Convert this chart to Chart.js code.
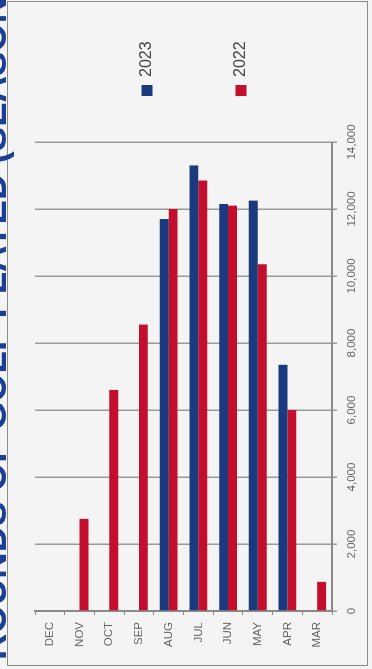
<!DOCTYPE html>
<html>
<head>
<meta charset="utf-8">
<script src="https://cdn.jsdelivr.net/npm/chart.js@4/dist/chart.umd.min.js"></script>
<style>
html, body { margin: 0; padding: 0; background: #f4f4f4; overflow: hidden; }
/* the scanned chart is turned a quarter turn: draw it flat, then rotate the page */
#page {
    position: absolute; left: 0; top: 0;
    width: 669px; height: 372px;
    transform-origin: 0 0;
    transform: translateY(669px) rotate(-90deg);
    overflow: hidden;
    background: #f4f4f4;
}
#frame {
    position: absolute; left: 3px; top: 7px;
    width: 665px; height: 361px;
    box-sizing: border-box;
    border: 1.5px solid #8c8c8c;
}
#chart { position: absolute; left: 0; top: 0; }
</style>
</head>
<body>
<div id="page">
    <div id="frame"></div>
    <canvas id="chart" width="669" height="372"></canvas>
</div>
<script>
// Données du graphique
const chartTitle = "ROUNDS OF GOLF PLAYED (SEASON)";
const months = ["DEC", "NOV", "OCT", "SEP", "AUG", "JUL", "JUN", "MAY", "APR", "MAR"];
const seriesNames = ["2023", "2022"];
const rounds2023 = [null, null, null, null, 11700, 13300, 12150, 12250, 7350, null];
const rounds2022 = [null, 2750, 6600, 8550, 12000, 12850, 12100, 10350, 6000, 870];
const valueTicks = [0, 2000, 4000, 6000, 8000, 10000, 12000, 14000];

const colors = ['#1b3a7d', '#c30f2d'];
const legendY = [147, 241];

// Titre (coupé par le scan) et légende dessinés à la main
const titleAndLegend = {
    id: 'titleAndLegend',
    afterDraw(chart) {
        const ctx = chart.ctx;
        ctx.save();
        ctx.fillStyle = '#1c3f94';
        ctx.font = 'bold 36.6px "Liberation Sans", Arial, sans-serif';
        ctx.textBaseline = 'alphabetic';
        ctx.fillText(chartTitle, 9, 6);

        chart.data.datasets.forEach((ds, i) => {
            const y = legendY[i];
            ctx.fillStyle = ds.backgroundColor;
            ctx.fillRect(573, y - 5.5, 11, 11);
            ctx.fillStyle = '#444';
            ctx.font = '16px "Liberation Sans", Arial, sans-serif';
            ctx.textBaseline = 'middle';
            ctx.fillText(ds.label, 592, y);
        });
        ctx.restore();
    }
};

const ctx = document.getElementById('chart').getContext('2d');
new Chart(ctx, {
    type: 'bar',
    data: {
        labels: months,
        datasets: [
            { label: seriesNames[0], data: rounds2023, backgroundColor: colors[0] },
            { label: seriesNames[1], data: rounds2022, backgroundColor: colors[1] }
        ]
    },
    options: {
        indexAxis: 'y',
        responsive: false,
        animation: false,
        categoryPercentage: 0.6,
        barPercentage: 1,
        layout: { padding: { top: 35, right: 142, bottom: 0, left: 0 } },
        plugins: {
            legend: { display: false },
            tooltip: { enabled: false }
        },
        scales: {
            x: {
                min: 0,
                max: 14000,
                afterBuildTicks: (scale) => {
                    scale.ticks = valueTicks.map(v => ({ value: v }));
                },
                afterFit: (scale) => { scale.height = 40; },
                grid: { color: '#9a9a9a', lineWidth: 1.5, tickLength: 5 },
                border: { color: '#8a8a8a', width: 2 },
                ticks: {
                    padding: 8,
                    maxRotation: 0,
                    color: '#666',
                    font: { family: '"Liberation Sans", Arial, sans-serif', size: 11.5 },
                    callback: (v) => v.toLocaleString('en-US')
                }
            },
            y: {
                afterFit: (scale) => { scale.width = 58; },
                grid: { drawOnChartArea: false, color: '#8a8a8a', tickLength: 4 },
                border: { color: '#8a8a8a', width: 2 },
                ticks: {
                    padding: 7,
                    color: '#666',
                    font: { family: '"Liberation Sans", Arial, sans-serif', size: 11.5 }
                }
            }
        }
    },
    plugins: [titleAndLegend]
});
</script>
</body>
</html>
